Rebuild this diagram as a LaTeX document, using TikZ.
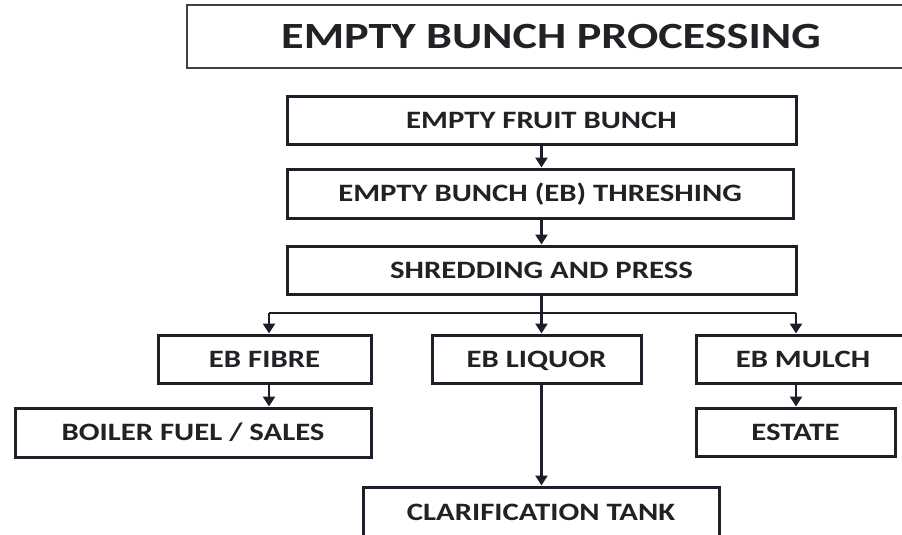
\documentclass[tikz,border=0pt]{standalone}
\usepackage{fontspec}
\setmainfont{Carlito}
\usetikzlibrary{arrows.meta}
\definecolor{ink}{HTML}{1E1E28}
\definecolor{txt}{HTML}{222226}
\newcommand{\wtxt}[1]{\scalebox{1.23}[1]{#1}}
\newcommand{\wttl}[1]{\scalebox{1.25}[1]{#1}}
\tikzset{
  box/.style={draw=ink, line width=3pt, fill=white, inner sep=0pt, text=txt,
    text height=20pt, text depth=4pt,
    font=\fontsize{25}{28}\selectfont\bfseries},
  ttl/.style={draw=ink!85, line width=1.2pt, inner sep=0pt},
  ttltxt/.style={text=txt, inner sep=0pt, font=\fontsize{37}{40}\selectfont\bfseries},
  arr/.style={draw=ink, line width=2.6pt, -{Triangle[width=12pt,length=10pt]}},
  ln/.style={draw=ink, line width=2.6pt}
}
\begin{document}
\begin{tikzpicture}[x=1pt,y=-1pt]
\useasboundingbox (0,0) rectangle (902,535);
\clip (0,0) rectangle (902,535);
\fill[white] (0,0) rectangle (902,535);
% title
\node[ttl, minimum width=733pt, minimum height=63pt] (title) at (553.5,36.5) {};
\node[ttltxt] (ttltext) at (551,36.5) {\wttl{EMPTY BUNCH PROCESSING}};
% boxes
\node[box, minimum width=509pt, minimum height=48pt] (b1) at (541.5,120) {\wtxt{EMPTY FRUIT BUNCH}};
\node[box, minimum width=506pt, minimum height=49pt] (b2) at (540,193.5) {\wtxt{EMPTY BUNCH (EB) THRESHING}};
\node[box, minimum width=509pt, minimum height=48pt] (b3) at (541.5,270) {\wtxt{SHREDDING AND PRESS}};
\node[box, minimum width=213pt, minimum height=48pt] (fibre) at (264.5,359) {\wtxt{EB FIBRE}};
\node[box, minimum width=209pt, minimum height=48pt] (liquor) at (536.5,359) {\wtxt{EB LIQUOR}};
\node[box, minimum width=214pt, minimum height=48pt] (mulch) at (803,359) {\wtxt{EB MULCH}};
\node[box, minimum width=356pt, minimum height=49pt] (boiler) at (193,432.5) {\wtxt{BOILER FUEL / SALES}};
\node[box, minimum width=199pt, minimum height=48pt] (estate) at (795.5,432) {\wtxt{ESTATE}};
\node[box, minimum width=356pt, minimum height=58pt] (clar) at (541,516) {\raisebox{4pt}{\wtxt{CLARIFICATION TANK}}};
% connectors
\draw[arr] (b1.south) -- (b1.south |- b2.north);
\draw[arr] (b1.south |- b2.south) -- (b1.south |- b3.north);
\draw[arr] (b3.south) -- (b3.south |- liquor.north);
\coordinate (jl) at (269,313);
\coordinate (jr) at (796,313);
\draw[ln] (jl) -- (jr);
\draw[arr] (jl) -- (jl |- fibre.north);
\draw[arr] (jr) -- (jr |- mulch.north);
\draw[arr] (jl |- fibre.south) -- (jl |- boiler.north);
\draw[arr] (jr |- mulch.south) -- (jr |- estate.north);
\draw[arr] (b3.south |- liquor.south) -- (b3.south |- clar.north);
\end{tikzpicture}
\end{document}
